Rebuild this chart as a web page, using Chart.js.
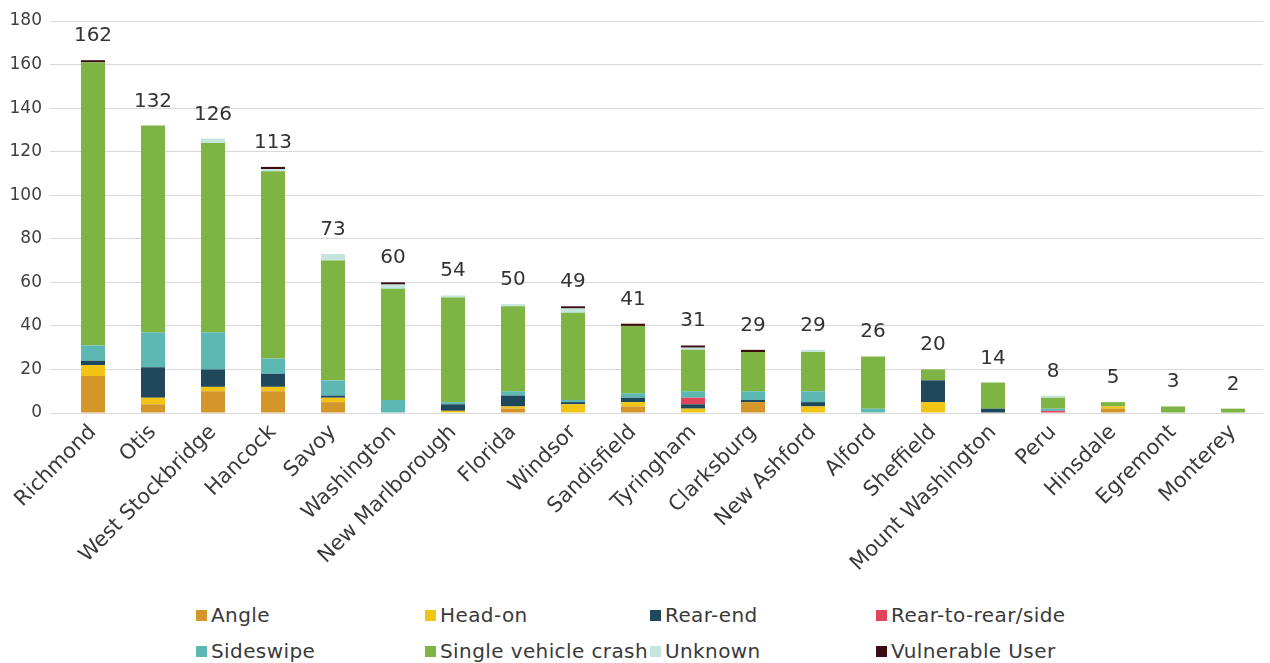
<!DOCTYPE html>
<html>
<head>
<meta charset="utf-8">
<script src="https://cdn.jsdelivr.net/npm/chart.js@4.4.1/dist/chart.umd.min.js"></script>
<style>
  html, body { margin: 0; padding: 0; background: #ffffff; }
  body { width: 1270px; height: 663px; position: relative; overflow: hidden; font-family: "DejaVu Sans", sans-serif; }
  #wrap { position: absolute; left: 0; top: 0; width: 1270px; height: 600px; }
  #legend { position: absolute; left: 0; top: 600px; width: 1270px; height: 63px; }
  .item { position: absolute; display: flex; align-items: center; font-size: 20px; letter-spacing: 0.4px; color: #3a3a3a; white-space: nowrap; height: 24px; }
  .box { width: 11px; height: 11px; margin-right: 4px; flex: none; }
</style>
</head>
<body>
<div id="wrap"><canvas id="c"></canvas></div>
<div id="legend"></div>
<script>
const towns = ["Richmond","Otis","West Stockbridge","Hancock","Savoy","Washington","New Marlborough","Florida","Windsor","Sandisfield","Tyringham","Clarksburg","New Ashford","Alford","Sheffield","Mount Washington","Peru","Hinsdale","Egremont","Monterey"];

const angle      = [17, 4, 10, 10, 5, 0, 0, 2, 0, 3, 0, 5, 0, 0, 0, 0, 0, 2, 0, 0];
const headOn     = [5, 3, 2, 2, 2, 0, 1, 1, 4, 2, 2, 0, 3, 0, 5, 0, 0, 1, 0, 0];
const rearEnd    = [2, 14, 8, 6, 1, 0, 3, 5, 1, 2, 2, 1, 2, 0, 10, 2, 0, 0, 0, 0];
const rearToRear = [0, 0, 0, 0, 0, 0, 0, 0, 0, 0, 3, 0, 0, 0, 0, 0, 1, 0, 0, 0];
const sideswipe  = [7, 16, 17, 7, 7, 6, 1, 2, 1, 2, 3, 4, 5, 2, 0, 0, 1, 0, 0, 0];
const singleVeh  = [130, 95, 87, 86, 55, 51, 48, 39, 40, 31, 19, 18, 18, 24, 5, 12, 5, 2, 3, 2];
const unknown    = [0, 0, 2, 1, 3, 2, 1, 1, 2, 0, 1, 0, 1, 0, 0, 0, 1, 0, 0, 0];
const vulnerable = [1, 0, 0, 1, 0, 1, 0, 0, 1, 1, 1, 1, 0, 0, 0, 0, 0, 0, 0, 0];

const yTicks = [0, 20, 40, 60, 80, 100, 120, 140, 160, 180];

const seriesNames = ["Angle","Head-on","Rear-end","Rear-to-rear/side","Sideswipe","Single vehicle crash","Unknown","Vulnerable User"];
const seriesData = [angle, headOn, rearEnd, rearToRear, sideswipe, singleVeh, unknown, vulnerable];
const seriesColors = ["#D4962A","#F2C414","#1F485C","#E0455A","#5DB8B4","#7DB443","#C4E6DF","#3B0D12"];

const datasets = seriesNames.map((n, i) => ({
  label: n,
  data: seriesData[i],
  backgroundColor: seriesColors[i],
  borderWidth: 0,
  barPercentage: 0.4,
  categoryPercentage: 1.0
}));

const totalsPlugin = {
  id: 'totals',
  afterDatasetsDraw(chart) {
    const ctx = chart.ctx;
    const xs = chart.scales.x, ys = chart.scales.y;
    ctx.save();
    ctx.font = '20px "DejaVu Sans"';
    ctx.fillStyle = '#333333';
    ctx.textAlign = 'center';
    ctx.textBaseline = 'alphabetic';
    towns.forEach((t, i) => {
      const total = seriesData.reduce((s, arr) => s + arr[i], 0);
      const x = xs.getPixelForValue(i);
      const y = ys.getPixelForValue(total);
      ctx.fillText(String(total), x, y - 19);
    });
    ctx.restore();
  }
};

new Chart(document.getElementById('c'), {
  type: 'bar',
  data: { labels: towns, datasets },
  plugins: [totalsPlugin],
  options: {
    responsive: true,
    maintainAspectRatio: false,
    animation: false,
    layout: { padding: { top: 21, right: 7, left: 0, bottom: 0 } },
    plugins: { legend: { display: false }, tooltip: { enabled: false } },
    scales: {
      x: {
        stacked: true,
        grid: { display: false, drawTicks: false },
        border: { display: false },
        ticks: {
          color: '#3a3a3a',
          font: { family: 'DejaVu Sans', size: 21 },
          maxRotation: 45,
          minRotation: 45,
          autoSkip: false,
          padding: 7
        },
        afterFit(scale) { scale.height = 187; }
      },
      y: {
        stacked: true,
        min: 0,
        max: 180,
        afterBuildTicks(scale) { scale.ticks = yTicks.map(v => ({ value: v })); },
        grid: { color: '#D9D9D9', lineWidth: 1, drawTicks: true, tickLength: 13, tickColor: '#D9D9D9' },
        border: { display: false },
        ticks: {
          color: '#404040',
          font: { family: 'DejaVu Sans', size: 17 },
          padding: 8
        },
        afterFit(scale) { scale.width = 63; }
      }
    }
  }
});

// HTML legend (two rows of four)
const legend = document.getElementById('legend');
const colX = [196, 425, 650, 876];
const rowY = [3, 39];
seriesNames.forEach((n, i) => {
  const d = document.createElement('div');
  d.className = 'item';
  let col = i % 4, row = Math.floor(i / 4);
  d.style.left = colX[col] + 'px';
  d.style.top = rowY[row] + 'px';
  d.innerHTML = '<span class="box" style="background:' + seriesColors[i] + '"></span><span>' + n + '</span>';
  legend.appendChild(d);
});
</script>
</body>
</html>
